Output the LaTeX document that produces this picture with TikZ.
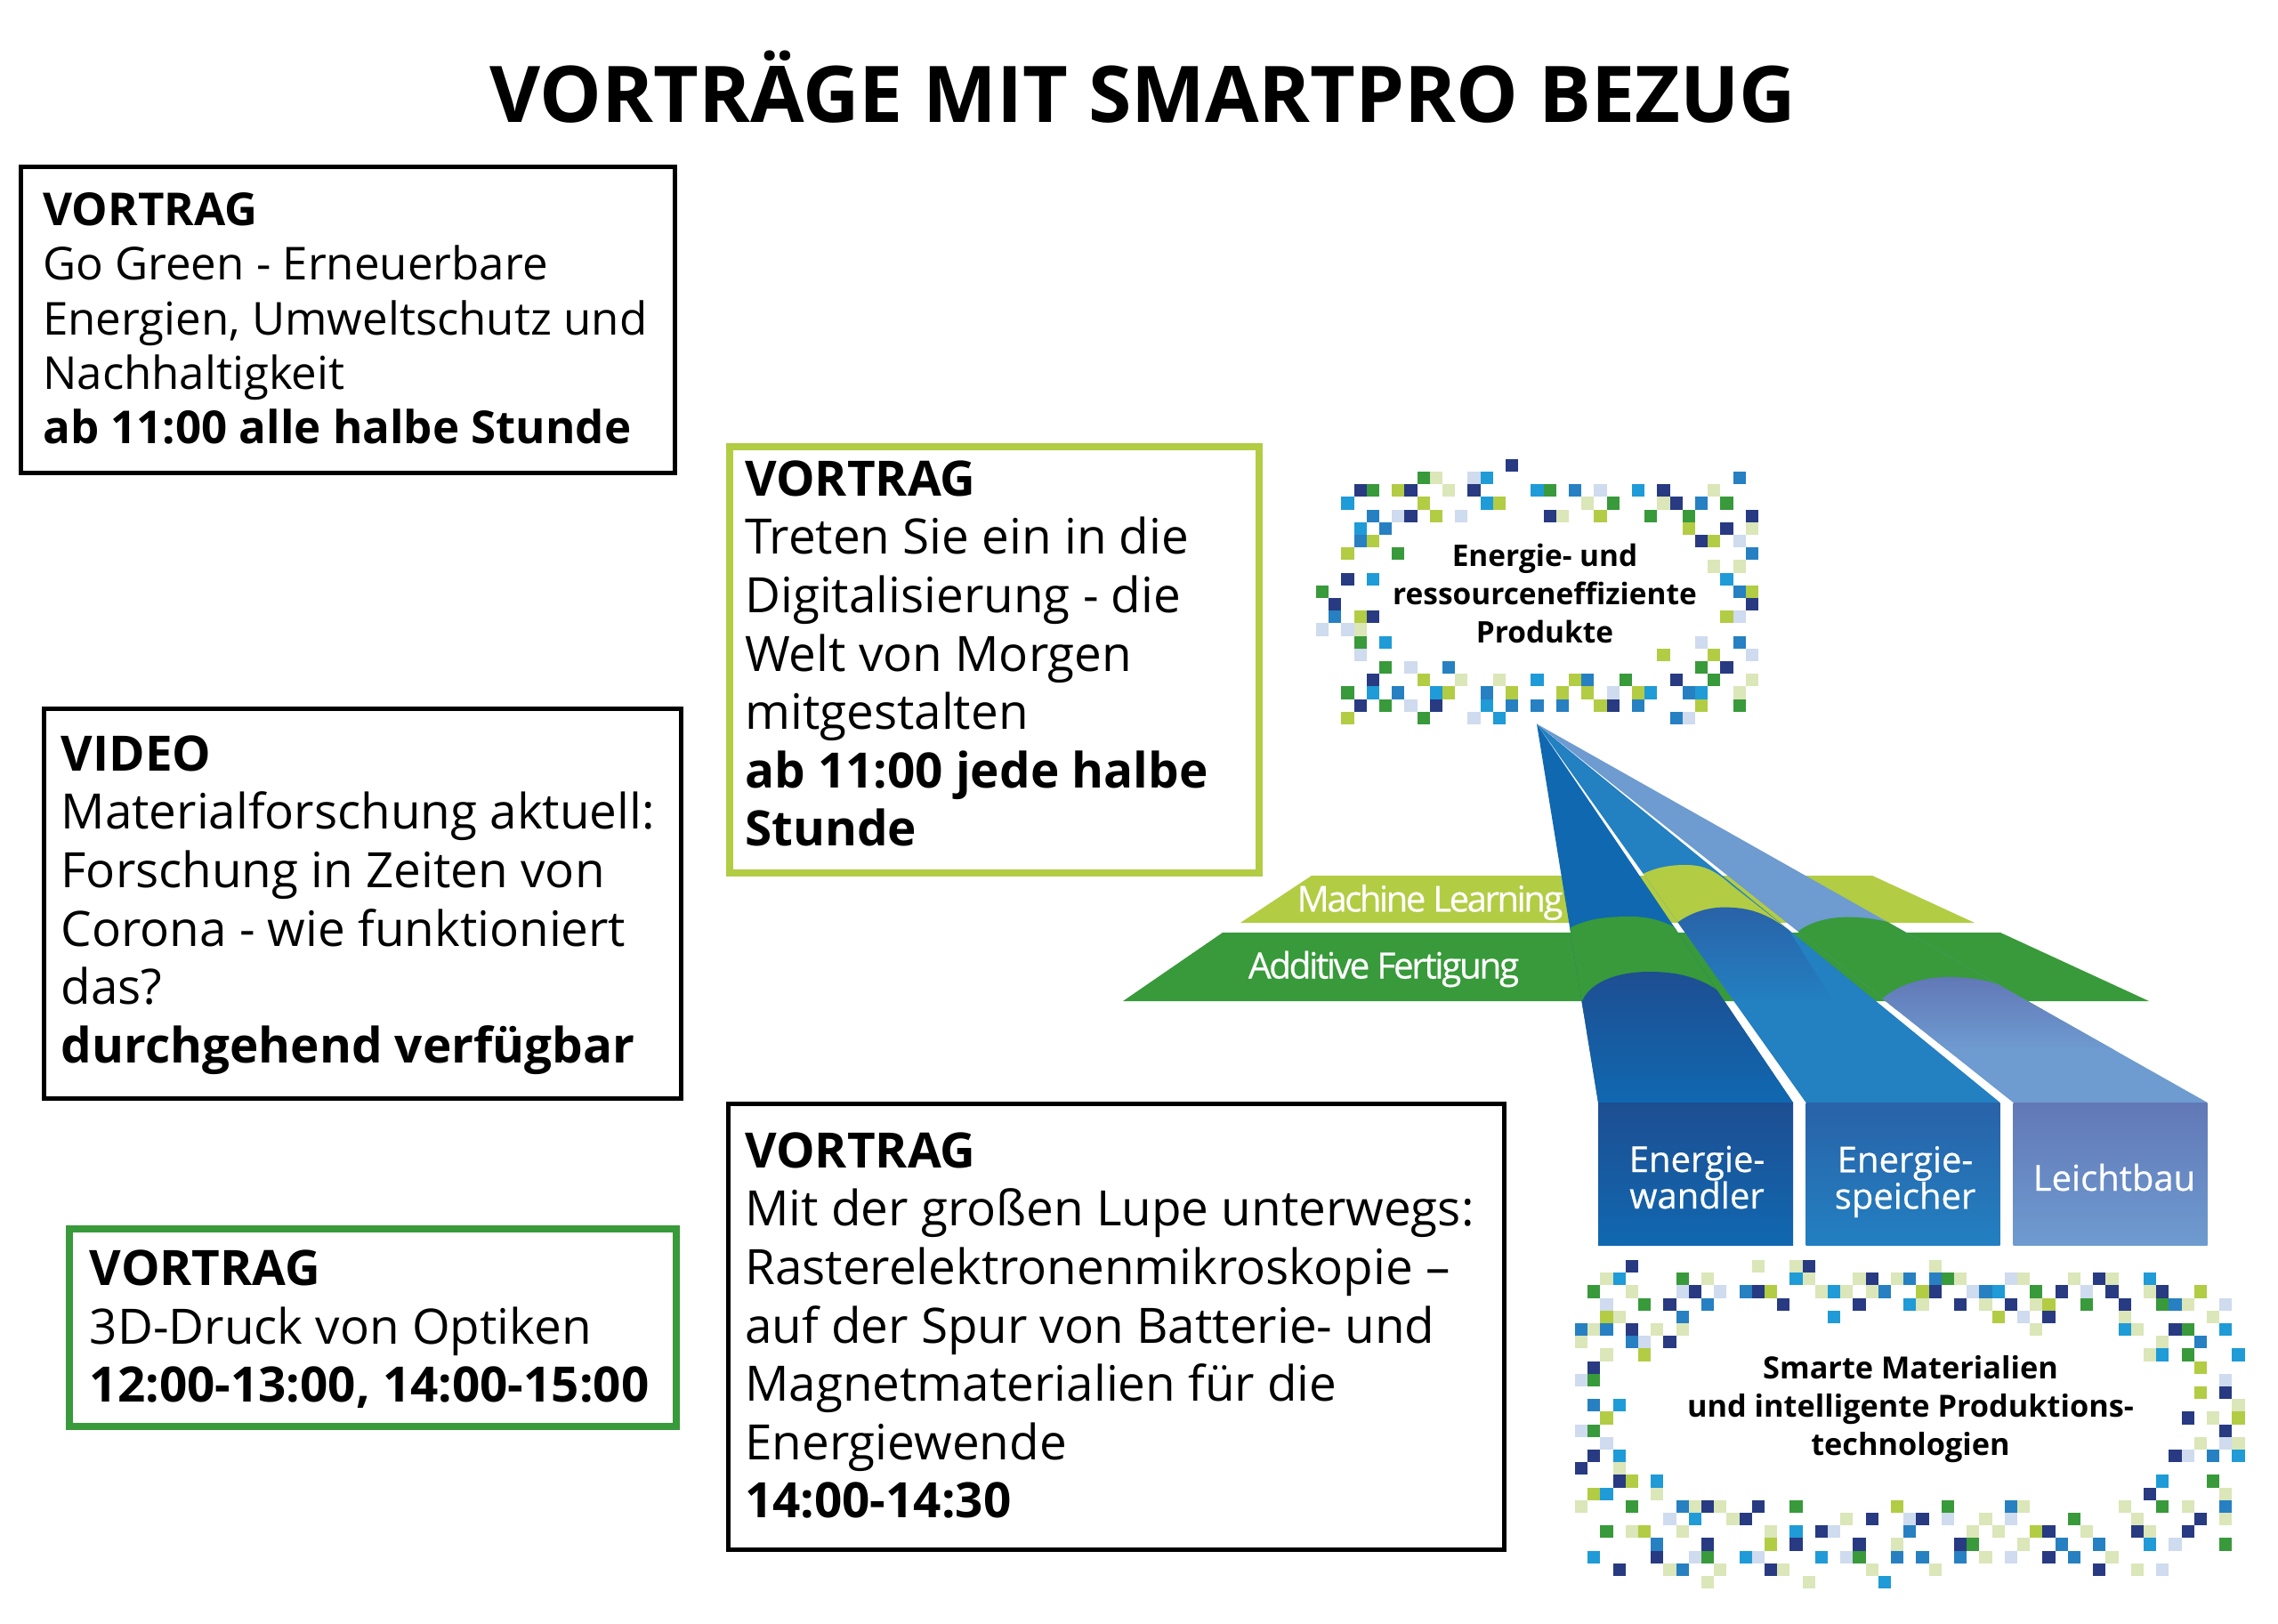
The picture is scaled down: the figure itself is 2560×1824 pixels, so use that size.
\documentclass[tikz,border=0pt]{standalone}
\usepackage{fontspec}
\setmainfont{Open Sans}
\newfontfamily\semif{Open Sans}[FakeBold=0.6]
\usetikzlibrary{calc}
\definecolor{pxD}{HTML}{273A82}
\definecolor{pxG}{HTML}{389A3A}
\definecolor{pxL}{HTML}{B2CC44}
\definecolor{pxP}{HTML}{DBE6B9}
\definecolor{pxB}{HTML}{1F9BD7}
\definecolor{pxM}{HTML}{2680C2}
\definecolor{pxW}{HTML}{CFDBEE}
\definecolor{rayA}{HTML}{1068B0}
\definecolor{rayAd}{HTML}{1E4E92}
\definecolor{rayB}{HTML}{2380C1}
\definecolor{rayBd}{HTML}{2962A8}
\definecolor{rayC}{HTML}{6E9BD0}
\definecolor{rayCd}{HTML}{6278B7}
\tikzset{
  framebox/.style={draw=black,line width=5pt,anchor=north west},
  boxtext/.style={anchor=west,align=left,text=black,inner sep=0pt},
  bandtext/.style={text=white,inner sep=0pt,align=center},
  lbl/.style={text=black,inner sep=0pt,align=center},
}
\begin{document}
\begin{tikzpicture}[x=1pt,y=-1pt]
\useasboundingbox (0,0) rectangle (2560,1824);
\fill[white] (0,0) rectangle (2560,1824);
% title
\node[inner sep=0pt,font=\fontsize{87.8}{100}\selectfont\bfseries] (title) at (1284.5,98) {VORTRÄGE MIT SMARTPRO BEZUG};
% boxes
\node[framebox,minimum width=734.5pt,minimum height=344pt] (b1) at (21,185) {};
\node[boxtext,font=\fontsize{51}{61.2}\selectfont] (b1t) at ([shift={(27,-1.5)}]b1.west)
 {\textbf{VORTRAG}\\Go Green - Erneuerbare\\Energien, Umweltschutz und\\Nachhaltigkeit\\\textbf{ab 11:00 alle halbe Stunde}};
\node[framebox,minimum width=716pt,minimum height=438pt] (b2) at (47,793.5) {};
\node[boxtext,font=\fontsize{54.8}{65.6}\selectfont] (b2t) at ([shift={(21.5,2)}]b2.west)
 {\textbf{VIDEO}\\Materialforschung aktuell:\\Forschung in Zeiten von\\Corona - wie funktioniert\\das?\\\textbf{durchgehend verfügbar}};
\node[framebox,draw=pxG,line width=8pt,minimum width=682pt,minimum height=222pt] (b3) at (73.5,1377) {};
\node[boxtext,font=\fontsize{54.8}{65.6}\selectfont] (b3t) at ([shift={(27.2,2)}]b3.west)
 {\textbf{VORTRAG}\\3D-Druck von Optiken\\\textbf{12:00-13:00, 14:00-15:00}};
\node[framebox,draw=pxL,line width=8pt,minimum width=595pt,minimum height=479pt] (b4) at (816,498) {};
\node[boxtext,font=\fontsize{54.8}{65.6}\selectfont] (b4t) at ([shift={(21,-7)}]b4.west)
 {\textbf{VORTRAG}\\Treten Sie ein in die\\Digitalisierung - die\\Welt von Morgen\\mitgestalten\\\textbf{ab 11:00 jede halbe}\\\textbf{Stunde}};
\node[framebox,minimum width=872pt,minimum height=501pt] (b5) at (816,1238) {};
\node[boxtext,font=\fontsize{54.8}{65.6}\selectfont] (b5t) at ([shift={(21,-1.5)}]b5.west)
 {\textbf{VORTRAG}\\Mit der großen Lupe unterwegs:\\Rasterelektronenmikroskopie –\\auf der Spur von Batterie- und\\Magnetmaterialien für die\\Energiewende\\\textbf{14:00-14:30}};
% planes
\fill[pxL] (1474,984) -- (2104,984) -- (2219,1037) -- (1394,1037) -- cycle;
\fill[pxG] (1374,1048) -- (2248,1048) -- (2415,1125) -- (1262,1125) -- cycle;
% rays: upper parts
\coordinate (apex) at (1727,813.5);
\fill[rayA] (apex) -- (1796,1239) -- (2015,1239) -- cycle;
\fill[rayB] (apex) -- (2029.5,1239) -- (2247.6,1239) -- cycle;
\fill[rayC] (apex) -- (2262.5,1239) -- (2480.6,1239) -- cycle;
% ray 1 arches
\begin{scope}
\clip (apex) -- (1796,1239) -- (2015,1239) -- cycle;
\fill[pxG] (1750,1052) .. controls (1775,1032) and (1805,1030) .. (1832,1030) .. controls (1855,1030) and (1875,1036) .. (1895,1050) -- (1960,1140) -- (1770,1140) -- cycle;
\path[top color=rayAd,bottom color=rayA] (1776,1130) .. controls (1785,1100) and (1825,1092) .. (1853,1092) .. controls (1885,1092) and (1920,1098) .. (1950,1130) -- (2020,1239) -- (1790,1239) -- cycle;
\end{scope}
% ray 2 arches
\begin{scope}
\clip (apex) -- (2029.5,1239) -- (2247.6,1239) -- cycle;
\fill[pxL] (1832,990) .. controls (1855,975) and (1875,972) .. (1894,972) .. controls (1912,972) and (1925,976) .. (1945,994) -- (2010,1045) -- (1875,1045) -- cycle;
\path[top color=rayBd,bottom color=rayB] (1875,1045) .. controls (1895,1026) and (1918,1019.6) .. (1938,1019.6) .. controls (1965,1019.6) and (1985,1026) .. (2010,1045) -- (2060,1125) -- (1950,1125) -- cycle;
\end{scope}
% ray 3 arches
\begin{scope}
\clip (apex) -- (2262.5,1239) -- (2480.6,1239) -- cycle;
\fill[pxG] (2015,1052) .. controls (2030,1036) and (2055,1030.6) .. (2077,1030.6) .. controls (2105,1030.6) and (2135,1037) .. (2160,1052) -- (2300,1135) -- (2100,1135) -- cycle;
\path[top color=rayCd,bottom color=rayC] (2108,1130) .. controls (2125,1108) and (2160,1098) .. (2189,1098) .. controls (2225,1098) and (2260,1105) .. (2290,1132) -- (2400,1180) -- (2150,1180) -- cycle;
\end{scope}
% columns
\path[top color=rayAd,bottom color=rayA] (1796,1239) rectangle (2015,1399);
\path[top color=rayBd,bottom color=rayB] (2029.5,1239) rectangle (2247.6,1399);
\path[top color=rayCd,bottom color=rayC] (2262.5,1239) rectangle (2480.6,1399);
% band and column texts
\node[bandtext,font=\semif\fontsize{40}{40}\selectfont] (ml) at (1607,1014) {\addfontfeature{LetterSpace=-6}Machine Learning};
\node[bandtext,font=\semif\fontsize{40.6}{40}\selectfont] (af) at (1555,1089) {\addfontfeature{LetterSpace=-6}Additive Fertigung};
\node[bandtext,font=\semif\fontsize{40}{35}\selectfont] (c1) at (1907,1323) {Energie-\\wandler};
\node[bandtext,font=\semif\fontsize{40}{35}\selectfont] (c2) at (2141,1328) {Energie-\\speicher};
\node[bandtext,font=\semif\fontsize{40}{35}\selectfont] (c3) at (2376,1323) {Leichtbau};
% labels
\node[lbl,font=\fontsize{33.4}{43}\selectfont\bfseries] (top) at (1736,667) {Energie- und\\ressourceneffiziente\\Produkte};
\node[lbl,font=\fontsize{34.3}{43}\selectfont\bfseries] (bot) at (2147,1583.5) {Smarte Materialien\\und intelligente Produktions-\\technologien};
% top pixel frame
\foreach \c/\r/\k in {15/0/D,8/1/G,9/1/P,12/1/W,13/1/B,33/1/M,
3/2/D,4/2/G,6/2/L,7/2/D,10/2/P,12/2/D,17/2/B,18/2/G,20/2/M,22/2/W,25/2/B,27/2/D,31/2/P,
2/3/B,8/3/L,13/3/B,14/3/L,21/3/P,23/3/G,27/3/P,28/3/D,30/3/M,32/3/G,
4/4/M,6/4/W,7/4/D,9/4/L,11/4/W,18/4/D,19/4/P,22/4/L,26/4/G,29/4/G,34/4/D,
3/5/B,5/5/M,29/5/L,32/5/D,34/5/P,
3/6/M,4/6/L,30/6/D,31/6/L,33/6/W,
2/7/L,6/7/G,34/7/M,
31/8/P,33/8/P,
2/9/D,4/9/B,32/9/B,
0/10/G,33/10/M,34/10/L,
1/11/D,34/11/D,
1/12/M,3/12/L,4/12/D,32/12/L,33/12/W,
0/13/W,2/13/W,3/13/P,
3/14/G,5/14/B,30/14/W,33/14/M,
3/15/W,27/15/L,31/15/L,34/15/W,
5/16/G,7/16/W,10/16/M,30/16/G,32/16/D,
4/17/D,8/17/L,11/17/P,14/17/P,17/17/B,20/17/L,21/17/M,24/17/G,28/17/D,31/17/G,34/17/P,
2/18/G,4/18/B,6/18/M,9/18/B,10/18/L,13/18/M,15/18/L,19/18/L,21/18/L,23/18/W,25/18/L,26/18/B,29/18/M,30/18/B,33/18/P,
3/19/D,5/19/G,7/19/W,9/19/D,13/19/B,15/19/M,17/19/M,19/19/M,22/19/L,23/19/D,25/19/M,30/19/L,33/19/G,
2/20/L,8/20/G,12/20/W,14/20/B,28/20/M,29/20/W}
  {\fill[px\k] ({1479+\c*14.2},{515.7+\r*14.2}) rectangle ++(14.2,14.2);}
% bottom pixel frame
\foreach \c/\r/\k in {4/0/D,14/0/P,17/0/P,18/0/D,28/0/P,
2/1/P,3/1/B,8/1/G,10/1/P,17/1/B,18/1/P,22/1/P,23/1/D,25/1/P,26/1/M,28/1/M,29/1/G,30/1/P,34/1/W,35/1/P,39/1/P,41/1/D,42/1/P,45/1/B,
1/2/G,4/2/P,8/2/W,9/2/D,11/2/W,13/2/M,14/2/D,15/2/L,19/2/P,20/2/B,21/2/P,23/2/P,24/2/M,27/2/L,28/2/D,31/2/W,32/2/M,33/2/B,36/2/G,38/2/D,40/2/W,42/2/D,45/2/P,46/2/D,49/2/L,
2/3/W,5/3/G,7/3/D,10/3/M,16/3/D,22/3/D,26/3/B,27/3/P,30/3/D,32/3/P,34/3/D,36/3/P,37/3/L,40/3/G,43/3/D,46/3/G,47/3/M,48/3/P,51/3/W,
2/4/L,3/4/P,8/4/M,20/4/B,33/4/L,35/4/W,37/4/D,43/4/P,50/4/P,
0/5/M,1/5/P,2/5/M,4/5/D,6/5/P,8/5/P,36/5/P,43/5/B,44/5/P,47/5/D,48/5/G,51/5/B,
0/6/P,4/6/M,5/6/W,7/6/D,46/6/P,49/6/M,
2/7/P,5/7/L,45/7/P,46/7/B,48/7/G,52/7/B,
1/8/D,49/8/L,
0/9/W,1/9/G,51/9/W,
49/10/L,51/10/D,
1/11/M,3/11/B,52/11/P,
2/12/L,48/12/D,50/12/P,52/12/L,
0/13/W,1/13/G,51/13/D,
2/14/W,49/14/P,51/14/W,52/14/P,
1/15/D,3/15/B,47/15/D,48/15/W,50/15/M,52/15/B,
0/16/D,3/16/P,
3/17/D,4/17/L,6/17/B,46/17/B,50/17/G,
1/18/L,2/18/B,6/18/P,45/18/D,51/18/P,
0/19/P,4/19/G,8/19/M,9/19/P,10/19/D,11/19/P,14/19/D,17/19/G,25/19/L,29/19/G,34/19/M,35/19/P,43/19/P,46/19/G,48/19/P,51/19/M,
7/20/W,9/20/B,12/20/P,13/20/D,21/20/P,23/20/D,26/20/W,27/20/D,29/20/W,32/20/P,34/20/W,39/20/G,44/20/P,49/20/D,51/20/P,
2/21/G,4/21/P,5/21/L,8/21/P,15/21/P,17/21/B,19/21/D,20/21/W,26/21/M,31/21/P,33/21/P,36/21/L,37/21/D,40/21/P,44/21/D,45/21/P,48/21/D,
6/22/M,10/22/D,15/22/L,17/22/D,22/22/D,25/22/P,30/22/D,31/22/G,35/22/P,38/22/M,41/22/M,45/22/B,47/22/W,51/22/G,
1/23/B,6/23/D,9/23/W,10/23/G,13/23/B,14/23/W,19/23/B,21/23/W,22/23/G,25/23/M,27/23/M,30/23/M,32/23/P,34/23/W,37/23/D,39/23/M,42/23/P,
3/24/D,7/24/P,8/24/M,11/24/P,15/24/D,16/24/P,23/24/P,28/24/P,41/24/D,44/24/P,46/24/W,
10/25/P,18/25/P,24/25/B}
  {\fill[px\k] ({1770+\c*14.2},{1416+\r*14.2}) rectangle ++(14.2,14.2);}
\end{tikzpicture}
\end{document}
